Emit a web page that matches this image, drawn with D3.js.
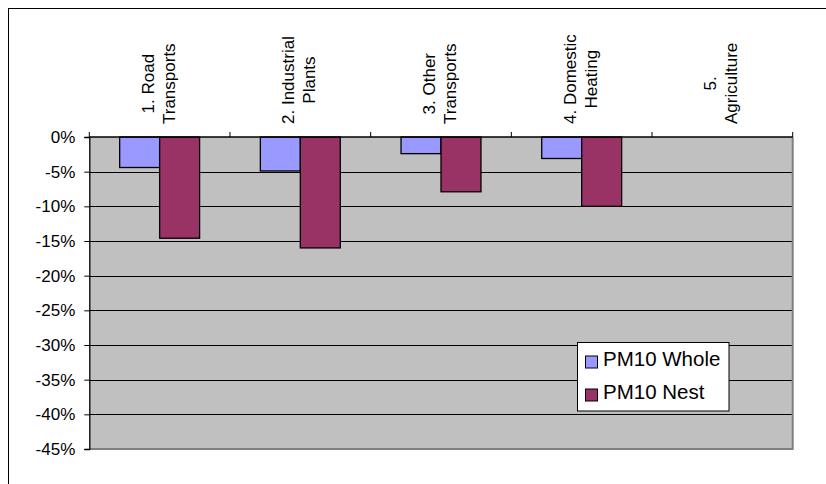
<!DOCTYPE html>
<html>
<head>
<meta charset="utf-8">
<script src="https://cdn.jsdelivr.net/npm/d3@7"></script>
<style>
  html, body { margin: 0; padding: 0; background: #fff; }
  svg { display: block; font-family: "Liberation Sans", Arial, sans-serif; }
</style>
</head>
<body>
<svg id="chart" width="826" height="484"></svg>
<script>
// ---- data ----
const categories = [
  ["1. Road", "Transports"],
  ["2. Industrial", "Plants"],
  ["3. Other", "Transports"],
  ["4. Domestic", "Heating"],
  ["5.", "Agriculture"]
];
const seriesNames = ["PM10 Whole", "PM10 Nest"];
const pm10Whole = [-4.4, -4.9, -2.4, -3.1, 0];
const pm10Nest = [-14.6, -16.0, -7.9, -10.0, 0];
const yTicks = [0, -5, -10, -15, -20, -25, -30, -35, -40, -45];
const seriesColors = ["#9999FF", "#993366"];

// ---- layout ----
const svg = d3.select("#chart");
const plot = { left: 89.3, right: 792.7, top: 137, bottom: 449 };

const catKeys = categories.map((c, i) => i);
const x0 = d3.scaleBand().domain(catKeys).range([plot.left, plot.right]).padding(0);
const x1 = d3.scaleBand().domain(seriesNames).range([0, x0.bandwidth()]).paddingInner(0).paddingOuter(0.76);
const y = d3.scaleLinear().domain([-45, 0]).range([plot.bottom, plot.top]);

// outer chart frame
svg.append("rect")
  .attr("x", 8.5).attr("y", 8.5)
  .attr("width", 900).attr("height", 600)
  .attr("fill", "none").attr("stroke", "#000").attr("stroke-width", 1);

// plot background
svg.append("rect")
  .attr("x", plot.left).attr("y", plot.top)
  .attr("width", plot.right - plot.left).attr("height", plot.bottom - plot.top)
  .attr("fill", "#C0C0C0");

// gridlines
svg.append("g").selectAll("line")
  .data(yTicks.filter(t => t !== 0 && t !== -45))
  .join("line")
  .attr("x1", plot.left).attr("x2", plot.right)
  .attr("y1", d => Math.round(y(d)) + 0.5).attr("y2", d => Math.round(y(d)) + 0.5)
  .attr("stroke", "#000").attr("stroke-width", 1);

// bars
const rows = catKeys.map(i => ({ i, values: [pm10Whole[i], pm10Nest[i]] }));
const groups = svg.append("g").selectAll("g")
  .data(rows)
  .join("g")
  .attr("transform", d => `translate(${x0(d.i)},0)`);
groups.selectAll("rect")
  .data(d => d.values.map((v, k) => ({ v, k })).filter(e => e.v !== 0))
  .join("rect")
  .attr("x", e => x1(seriesNames[e.k]))
  .attr("y", y(0))
  .attr("width", x1.bandwidth())
  .attr("height", e => y(e.v) - y(0))
  .attr("fill", e => seriesColors[e.k])
  .attr("stroke", "#000").attr("stroke-width", 1.3);

// plot border right & bottom (gray)
svg.append("path")
  .attr("d", `M${plot.right},${plot.top} V${plot.bottom} H${plot.left}`)
  .attr("fill", "none").attr("stroke", "#808080").attr("stroke-width", 2);

// category axis at zero with upward tick marks at boundaries
const boundaries = catKeys.map(i => x0(i)).concat([plot.right]);
const catAxis = svg.append("g");
catAxis.append("line")
  .attr("x1", plot.left).attr("x2", plot.right)
  .attr("y1", y(0)).attr("y2", y(0))
  .attr("stroke", "#000").attr("stroke-width", 1.3);
catAxis.selectAll("line.tk")
  .data(boundaries)
  .join("line").attr("class", "tk")
  .attr("x1", d => d).attr("x2", d => d)
  .attr("y1", y(0) - 5).attr("y2", y(0))
  .attr("stroke", "#000").attr("stroke-width", 1);

// value axis
const yAxis = d3.axisLeft(y)
  .tickValues(yTicks)
  .tickFormat(d => d + "%")
  .tickSize(5)
  .tickPadding(9);
const ya = svg.append("g")
  .attr("transform", `translate(${plot.left},0)`)
  .call(yAxis);
ya.select(".domain").attr("stroke", "#000").attr("stroke-width", 1.3);
ya.selectAll(".tick line").attr("stroke", "#000");
ya.selectAll(".tick text")
  .attr("fill", "#000")
  .style("font-family", '"Liberation Sans", Arial, sans-serif')
  .style("font-size", "17px");

// category labels (rotated)
const labelG = svg.append("g");
categories.forEach((lines, i) => {
  const cx = x0(i) + x0.bandwidth() / 2;
  const offs = [-6, 15];
  const texts = lines.map((t, j) =>
    labelG.append("text")
      .text(t)
      .attr("text-anchor", "middle")
      .style("font-size", "17px")
      .attr("fill", "#000")
  );
  const maxLen = d3.max(texts, t => t.node().getComputedTextLength());
  const cy = y(0) - 13 - maxLen / 2;
  texts.forEach((t, j) => {
    t.attr("transform", `translate(${cx + offs[j]},${cy}) rotate(-90)`);
  });
});

// legend
const lg = svg.append("g");
lg.append("rect")
  .attr("x", 577.5).attr("y", 342.5)
  .attr("width", 151.5).attr("height", 68.5)
  .attr("fill", "#fff").attr("stroke", "#000").attr("stroke-width", 1);
const legendY = [366, 399];
seriesNames.forEach((name, k) => {
  lg.append("rect")
    .attr("x", 585.5).attr("y", legendY[k] - 10)
    .attr("width", 12).attr("height", 12)
    .attr("fill", seriesColors[k]).attr("stroke", "#000").attr("stroke-width", 1);
  lg.append("text")
    .attr("x", 603).attr("y", legendY[k])
    .style("font-size", "20.5px")
    .attr("fill", "#000")
    .text(name);
});
</script>
</body>
</html>
